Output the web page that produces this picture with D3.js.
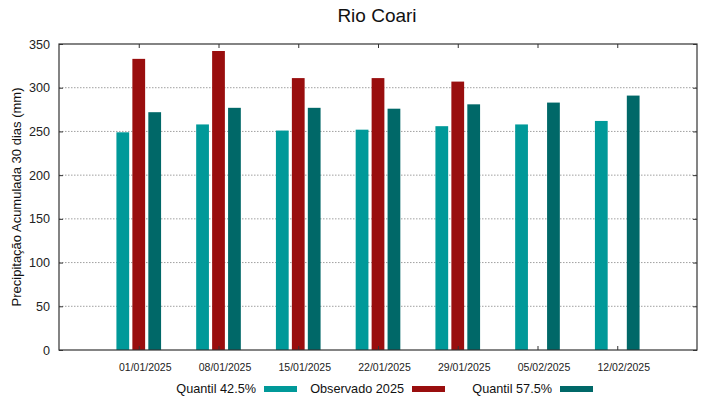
<!DOCTYPE html>
<html>
<head>
<meta charset="utf-8">
<script src="https://cdn.jsdelivr.net/npm/d3@7"></script>
<style>
  body { margin: 0; background: #fff; }
  svg { font-family: "Liberation Sans", Arial, sans-serif; }
</style>
</head>
<body>
<svg id="chart" width="719" height="399"></svg>
<script>
// dados
var dates = ["01/01/2025", "08/01/2025", "15/01/2025", "22/01/2025", "29/01/2025", "05/02/2025", "12/02/2025"];
var q425 = [249, 258, 251, 252, 256, 258, 262];
var observado = [333, 342, 311, 311, 307, null, null];
var q575 = [272, 277, 277, 276, 281, 283, 291];
var yTicks = [0, 50, 100, 150, 200, 250, 300, 350];

var series = [
  {name: "Quantil 42.5%", values: q425, color: "#009999", off: -0.2},
  {name: "Observado 2025", values: observado, color: "#990e0e", off: 0},
  {name: "Quantil 57.5%", values: q575, color: "#006868", off: 0.2}
];

var svg = d3.select("#chart");
var pLeft = 59, pRight = 697, pTop = 44, pBottom = 350;

var x = d3.scaleLinear().domain([-1, dates.length]).range([pLeft, pRight]);
var y = d3.scaleLinear().domain([0, 350]).range([pBottom, pTop]);
var barW = x(0.16) - x(0);

// grade pontilhada
svg.append("g").selectAll("line")
  .data(yTicks.filter(function(d){ return d > 0 && d < 350; }))
  .enter().append("line")
  .attr("x1", pLeft).attr("x2", pRight)
  .attr("y1", function(d){ return y(d); })
  .attr("y2", function(d){ return y(d); })
  .attr("stroke", "#a0a0a0")
  .attr("stroke-width", 1)
  .attr("stroke-dasharray", "1.5,1.5");

// barras
series.forEach(function(s){
  svg.append("g").selectAll("rect")
    .data(s.values.map(function(v, i){ return {v: v, i: i}; }).filter(function(d){ return d.v != null; }))
    .enter().append("rect")
    .attr("x", function(d){ return x(d.i + s.off) - barW / 2; })
    .attr("y", function(d){ return y(d.v); })
    .attr("width", barW)
    .attr("height", function(d){ return y(0) - y(d.v); })
    .attr("fill", s.color);
});

// eixos
function styleAxis(g){
  g.select(".domain").remove();
  g.selectAll(".tick line").attr("stroke", "#333");
  g.selectAll(".tick text").attr("fill", "#222");
}

svg.append("g")
  .attr("transform", "translate(" + pLeft + ",0)")
  .call(d3.axisLeft(y).tickValues(yTicks).tickSize(-4).tickPadding(9))
  .call(styleAxis)
  .selectAll("text").style("font-size", "12.6px");

svg.append("g")
  .attr("transform", "translate(" + pRight + ",0)")
  .call(d3.axisRight(y).tickValues(yTicks).tickSize(-4).tickFormat(""))
  .call(styleAxis);

var idx = d3.range(dates.length);
svg.append("g")
  .attr("transform", "translate(0," + pTop + ")")
  .call(d3.axisTop(x).tickValues(idx).tickSize(-4).tickFormat(""))
  .call(styleAxis);

svg.append("g")
  .attr("transform", "translate(0," + pBottom + ")")
  .call(d3.axisBottom(x).tickValues(idx).tickSize(-4).tickPadding(14)
    .tickFormat(function(d){ return dates[d]; }))
  .call(styleAxis)
  .selectAll("text")
  .attr("dx", 6)
  .style("font-size", "10.5px");

// moldura
svg.append("rect")
  .attr("x", pLeft).attr("y", pTop)
  .attr("width", pRight - pLeft).attr("height", pBottom - pTop)
  .attr("fill", "none")
  .attr("stroke", "#333")
  .attr("stroke-width", 1.2);

// titulo
svg.append("text")
  .attr("x", 377).attr("y", 22)
  .attr("text-anchor", "middle")
  .style("font-size", "19px")
  .attr("fill", "#111")
  .text("Rio Coari");

svg.append("text")
  .attr("transform", "translate(21,197) rotate(-90)")
  .attr("text-anchor", "middle")
  .style("font-size", "13px")
  .attr("fill", "#111")
  .text("Precipitação Acumulada 30 dias (mm)");

// legenda
var legX = [256, 404, 552];
series.forEach(function(s, i){
  svg.append("text")
    .attr("x", legX[i]).attr("y", 393)
    .attr("text-anchor", "end")
    .style("font-size", "12.7px")
    .attr("fill", "#111")
    .text(s.name);
  svg.append("rect")
    .attr("x", legX[i] + 8).attr("y", 386)
    .attr("width", 33).attr("height", 6)
    .attr("fill", s.color);
});
</script>
</body>
</html>
